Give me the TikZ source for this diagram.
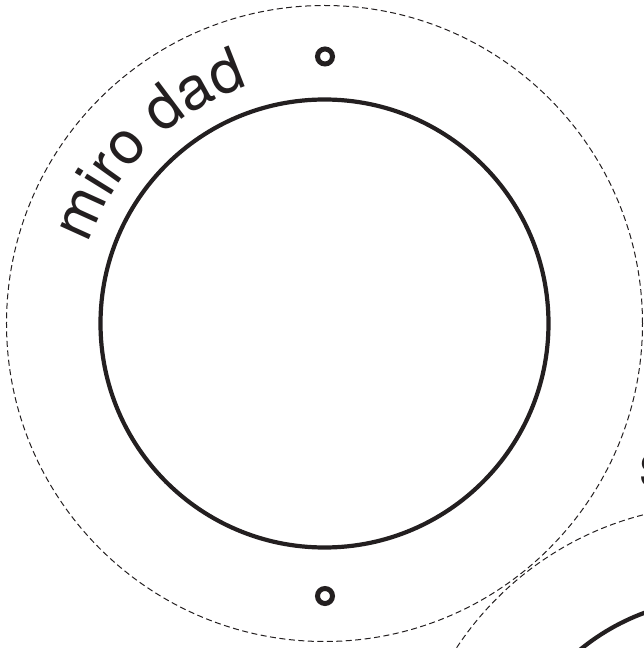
\documentclass[tikz,border=0pt]{standalone}
\usepackage{fontspec}
\setsansfont{TeX Gyre Heros}
\usetikzlibrary{decorations.text}
\definecolor{ink}{HTML}{231F20}
\newcommand\labelfont{\sffamily\fontsize{60}{62}\selectfont}
\begin{document}
\begin{tikzpicture}[x=1pt, y=1pt,
  cutline/.style={ink, line width=1pt, dash pattern=on 6pt off 3.5pt},
  rim/.style={ink, line width=4.2pt},
  eyelet/.style={ink, line width=5pt}]
  \useasboundingbox (-324.5,-324.5) rectangle (319.5,323.5);
  \clip (-324.5,-324.5) rectangle (319.5,323.5);
  \coordinate (C1) at (0,0);
  \coordinate (C2) at (397.5,-499.5);
  \coordinate (H1) at (0.5,267);
  \coordinate (H2) at (0.5,-272.5);
  % first disc
  \draw[cutline] (C1) circle[radius=318pt];
  \draw[rim] (C1) circle[radius=224pt];
  \draw[eyelet] (H1) circle[radius=7.5pt];
  \draw[eyelet] (H2) circle[radius=7.5pt];
  \path[decorate, decoration={text along path, text align=center,
      text={|\labelfont\color{ink}|miro dad}}]
    (170:249pt) arc[start angle=170, end angle=99, radius=249pt];
  % second disc, cut off by the page
  \draw[cutline] (C2) circle[radius=318pt];
  \draw[rim] (C2) circle[radius=224pt];
  \node[anchor=base west, inner sep=0pt, font=\labelfont, text=ink] (s) at (314.5,-162.5) {s};
\end{tikzpicture}
\end{document}
